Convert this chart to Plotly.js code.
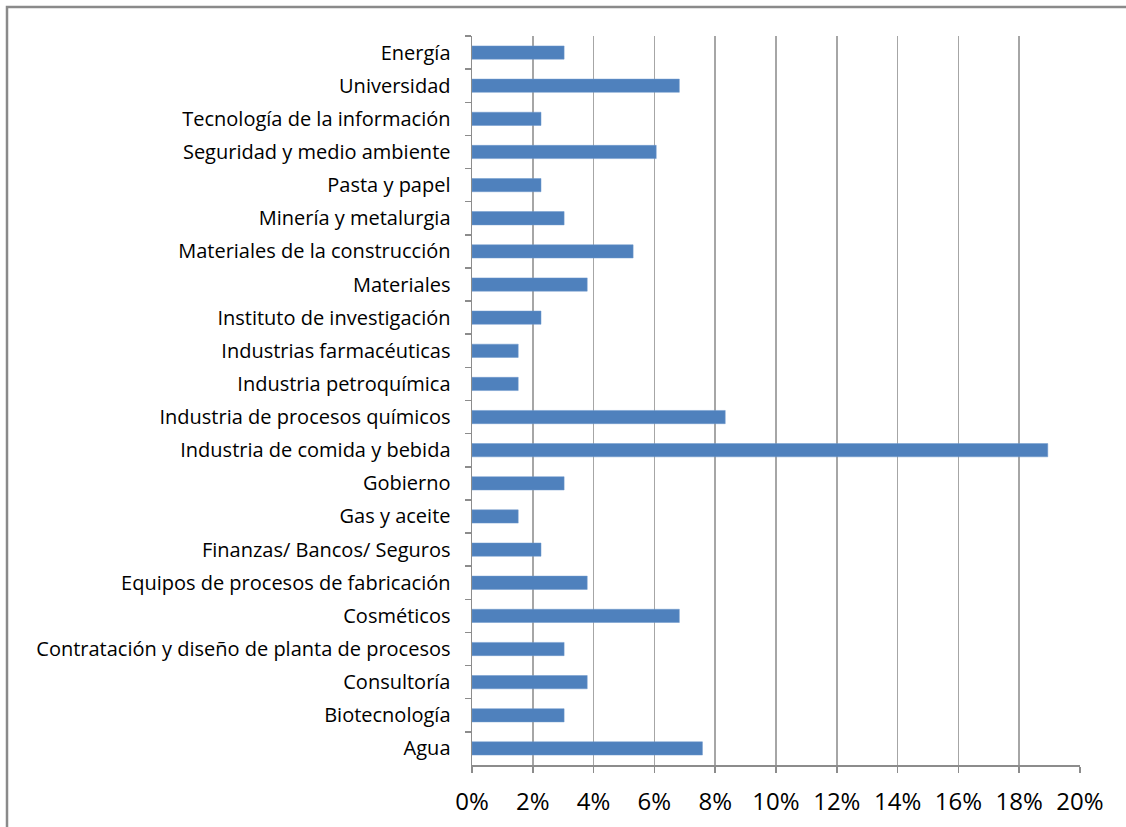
<!DOCTYPE html>
<html>
<head>
<meta charset="utf-8">
<script src="https://cdn.plot.ly/plotly-3.0.1.min.js"></script>
<style>
html,body{margin:0;padding:0;background:#fff;}
#chart{width:1126px;height:827px;}
</style>
</head>
<body>
<div id="chart"></div>
<script>
// Categories listed top to bottom
const categories = [
  "Energía",
  "Universidad",
  "Tecnología de la información",
  "Seguridad y medio ambiente",
  "Pasta y papel",
  "Minería y metalurgia",
  "Materiales de la construcción",
  "Materiales",
  "Instituto de investigación",
  "Industrias farmacéuticas",
  "Industria petroquímica",
  "Industria de procesos químicos",
  "Industria de comida y bebida",
  "Gobierno",
  "Gas y aceite",
  "Finanzas/ Bancos/ Seguros",
  "Equipos de procesos de fabricación",
  "Cosméticos",
  "Contratación y diseño de planta de procesos",
  "Consultoría",
  "Biotecnología",
  "Agua"
];
const shares = [
  0.0303, 0.0682, 0.0227, 0.0606, 0.0227, 0.0303, 0.0530, 0.0379, 0.0227, 0.0152, 0.0152,
  0.0833, 0.1894, 0.0303, 0.0152, 0.0227, 0.0379, 0.0682, 0.0303, 0.0379, 0.0303, 0.0758
];
const xTickVals = [0, 0.02, 0.04, 0.06, 0.08, 0.10, 0.12, 0.14, 0.16, 0.18, 0.20];
const xTickText = ["0%", "2%", "4%", "6%", "8%", "10%", "12%", "14%", "16%", "18%", "20%"];

const trace = {
  type: "bar",
  orientation: "h",
  x: shares,
  y: categories,
  marker: {color: "#4F81BD", line: {color: "#6f98cc", width: 0.5}},
  hoverinfo: "x+y"
};

const L = 472, R = 1080, T = 36, B = 765;
const W = R - L, H = B - T;
function px(x){ return (x - L) / W; }
function py(y){ return (B - y) / H; }

const FONT = "'Open Sans', Lato, sans-serif";

const layout = {
  width: 1126,
  height: 827,
  margin: {l: L, r: 1126 - R, t: T, b: 827 - B, pad: 0},
  paper_bgcolor: "#ffffff",
  plot_bgcolor: "#ffffff",
  font: {family: FONT, color: "#000000", size: 20},
  bargap: 0.6,
  showlegend: false,
  xaxis: {
    range: [0, 0.20],
    tickvals: xTickVals,
    ticktext: xTickText,
    showgrid: true,
    gridcolor: "#a6a6a6",
    gridwidth: 1.5,
    zeroline: false,
    showline: true,
    linecolor: "#8c8c8c",
    linewidth: 1.5,
    ticks: "outside",
    ticklen: 6,
    tickcolor: "#8c8c8c",
    tickwidth: 1.5,
    tickfont: {size: 24, family: FONT},
    ticklabelstandoff: 9,
    fixedrange: true
  },
  yaxis: {
    type: "category",
    autorange: "reversed",
    showgrid: false,
    zeroline: false,
    showline: true,
    linecolor: "#8c8c8c",
    linewidth: 1.5,
    ticks: "outside",
    tickson: "boundaries",
    ticklen: 6,
    tickcolor: "#8c8c8c",
    tickwidth: 1.5,
    tickfont: {size: 20, family: FONT},
    ticklabelstandoff: 16,
    fixedrange: true
  },
  shapes: [{
    type: "rect",
    xref: "paper", yref: "paper",
    x0: px(7), x1: px(1140),
    y0: py(840), y1: py(7),
    line: {color: "#8a8a8a", width: 2.5},
    fillcolor: "rgba(0,0,0,0)",
    layer: "below"
  }]
};

Plotly.newPlot("chart", [trace], layout, {displayModeBar: false, staticPlot: true});
</script>
</body>
</html>
